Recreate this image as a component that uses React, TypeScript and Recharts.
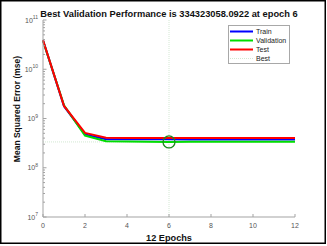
import { LineChart, Line, XAxis, YAxis, ReferenceLine, ReferenceDot, Legend } from "recharts"

const epochs = [0, 1, 2, 3, 4, 5, 6, 7, 8, 9, 10, 11, 12]
const trainMse = [3.85e10, 1.78e9, 4.75e8, 3.8e8, 3.78e8, 3.77e8, 3.77e8, 3.76e8, 3.76e8, 3.76e8, 3.76e8, 3.76e8, 3.76e8]
const validationMse = [3.8e10, 1.86e9, 4.5e8, 3.45e8, 3.4e8, 3.37e8, 334323058.0922, 3.36e8, 3.37e8, 3.37e8, 3.38e8, 3.38e8, 3.38e8]
const testMse = [3.9e10, 1.8e9, 5.1e8, 4.06e8, 4.03e8, 4.02e8, 4.02e8, 4.02e8, 4.02e8, 4.02e8, 4.02e8, 4.02e8, 4.02e8]
const bestEpoch = 6
const bestPerf = 334323058.0922
const xTicks = [0, 2, 4, 6, 8, 10, 12]
const yMajorTicks = [1e7, 1e8, 1e9, 1e10, 1e11]
const minorSteps = [2, 3, 4, 5, 6, 7, 8, 9]

const data = epochs.map((epoch, i) => ({
  epoch,
  train: trainMse[i],
  validation: validationMse[i],
  test: testMse[i],
}))

const yTicks: number[] = []
yMajorTicks.forEach((t, i) => {
  yTicks.push(t)
  if (i < yMajorTicks.length - 1) minorSteps.forEach((m) => yTicks.push(m * t))
})

const axisColor = "#a3a3a3"
const tickColor = "#555"
const bestColor = "#d3e8d3"
const font = "'Liberation Sans', Arial, sans-serif"

const LogTick = (props: any) => {
  const { x, y, payload } = props
  const lg = Math.log10(payload.value)
  const exp = Math.round(lg)
  const major = Math.abs(lg - exp) < 1e-6
  const ax = x + 5
  return (
    <g>
      <line x1={ax} x2={ax + (major ? 3.5 : 2)} y1={y} y2={y} stroke={axisColor} strokeWidth={1} />
      {major && (
        <text x={x} y={y + 2.5} textAnchor="end" fontSize={7} fill={tickColor} fontFamily={font}>
          10
          <tspan dy={-3.5} fontSize={5}>{exp}</tspan>
        </text>
      )}
    </g>
  )
}

const EpochTick = (props: any) => {
  const { x, y, payload } = props
  const ay = y - 6
  return (
    <g>
      <line x1={x} x2={x} y1={ay} y2={ay - 3} stroke={axisColor} strokeWidth={1} />
      <text x={x} y={y + 5} textAnchor="middle" fontSize={7} fill={tickColor} fontFamily={font}>
        {payload.value}
      </text>
    </g>
  )
}

const LegendBox = () => {
  const items = [
    { name: "Train", color: "#0000ff", dash: undefined as string | undefined, w: 2 },
    { name: "Validation", color: "#00dd00", dash: undefined, w: 2 },
    { name: "Test", color: "#ff0000", dash: undefined, w: 2 },
    { name: "Best", color: bestColor, dash: "1 1", w: 1 },
  ]
  return (
    <div
      style={{
        width: 60,
        height: 37,
        border: "1px solid #a8a8a8",
        background: "#fff",
        boxSizing: "content-box",
      }}
    >
      <svg width={60} height={37} style={{ display: "block" }}>
        {items.map((it, i) => (
          <g key={it.name}>
            <line x1={1} x2={24} y1={5.5 + i * 9} y2={5.5 + i * 9} stroke={it.color} strokeWidth={it.w} strokeDasharray={it.dash} />
            <text x={27} y={8 + i * 9} fontSize={7} fill="#222" fontFamily={font}>
              {it.name}
            </text>
          </g>
        ))}
      </svg>
    </div>
  )
}

export default function App() {
  return (
    <div style={{ position: "absolute", left: 0, top: 0, width: 327, height: 246, background: "#fff" }}>
      <LineChart width={327} height={246} data={data} margin={{ top: 20, right: 32, bottom: 0, left: 0 }}>
        <XAxis
          dataKey="epoch"
          type="number"
          domain={[0, 12]}
          ticks={xTicks}
          interval={0}
          height={29}
          tickSize={0}
          tickMargin={6}
          tickLine={false}
          tick={<EpochTick />}
          axisLine={{ stroke: axisColor }}
        />
        <YAxis
          type="number"
          scale="log"
          domain={[1e7, 1e11]}
          ticks={yTicks}
          interval={0}
          allowDataOverflow
          width={43}
          tickSize={0}
          tickMargin={5}
          tickLine={false}
          tick={<LogTick />}
          axisLine={{ stroke: axisColor }}
        />
        <ReferenceLine x={bestEpoch} stroke={bestColor} strokeDasharray="1 1" />
        <ReferenceLine y={bestPerf} stroke={bestColor} strokeDasharray="1 1" />
        <Line dataKey="train" stroke="#0000ff" strokeWidth={2} dot={false} isAnimationActive={false} />
        <Line dataKey="validation" stroke="#00dd00" strokeWidth={2} dot={false} isAnimationActive={false} />
        <Line dataKey="test" stroke="#ff0000" strokeWidth={2} dot={false} isAnimationActive={false} />
        <ReferenceDot x={bestEpoch} y={bestPerf} r={6} fill="none" stroke="#1e8a1e" strokeWidth={1.3} />
        <Legend
          content={<LegendBox />}
          wrapperStyle={{ top: 25, left: 228, width: 0, height: 0, overflow: "visible" }}
        />
      </LineChart>
      <svg width={327} height={246} style={{ position: "absolute", left: 0, top: 0, pointerEvents: "none" }}>
        <rect x={0.75} y={0.75} width={324.5} height={242.5} fill="none" stroke="#000" strokeWidth={1.5} />
        <text x={169} y={16.5} textAnchor="middle" fontSize={9.3} fontWeight="bold" fill="#111" fontFamily={font}>
          Best Validation Performance is 334323058.0922 at epoch 6
        </text>
        <text x={169} y={241} textAnchor="middle" fontSize={9.2} fontWeight="bold" fill="#111" fontFamily={font}>
          12 Epochs
        </text>
        <text
          transform="translate(20,109) rotate(-90)"
          textAnchor="middle"
          fontSize={8.5}
          fontWeight="bold"
          fill="#111"
          fontFamily={font}
        >
          Mean Squared Error  (mse)
        </text>
      </svg>
    </div>
  )
}
